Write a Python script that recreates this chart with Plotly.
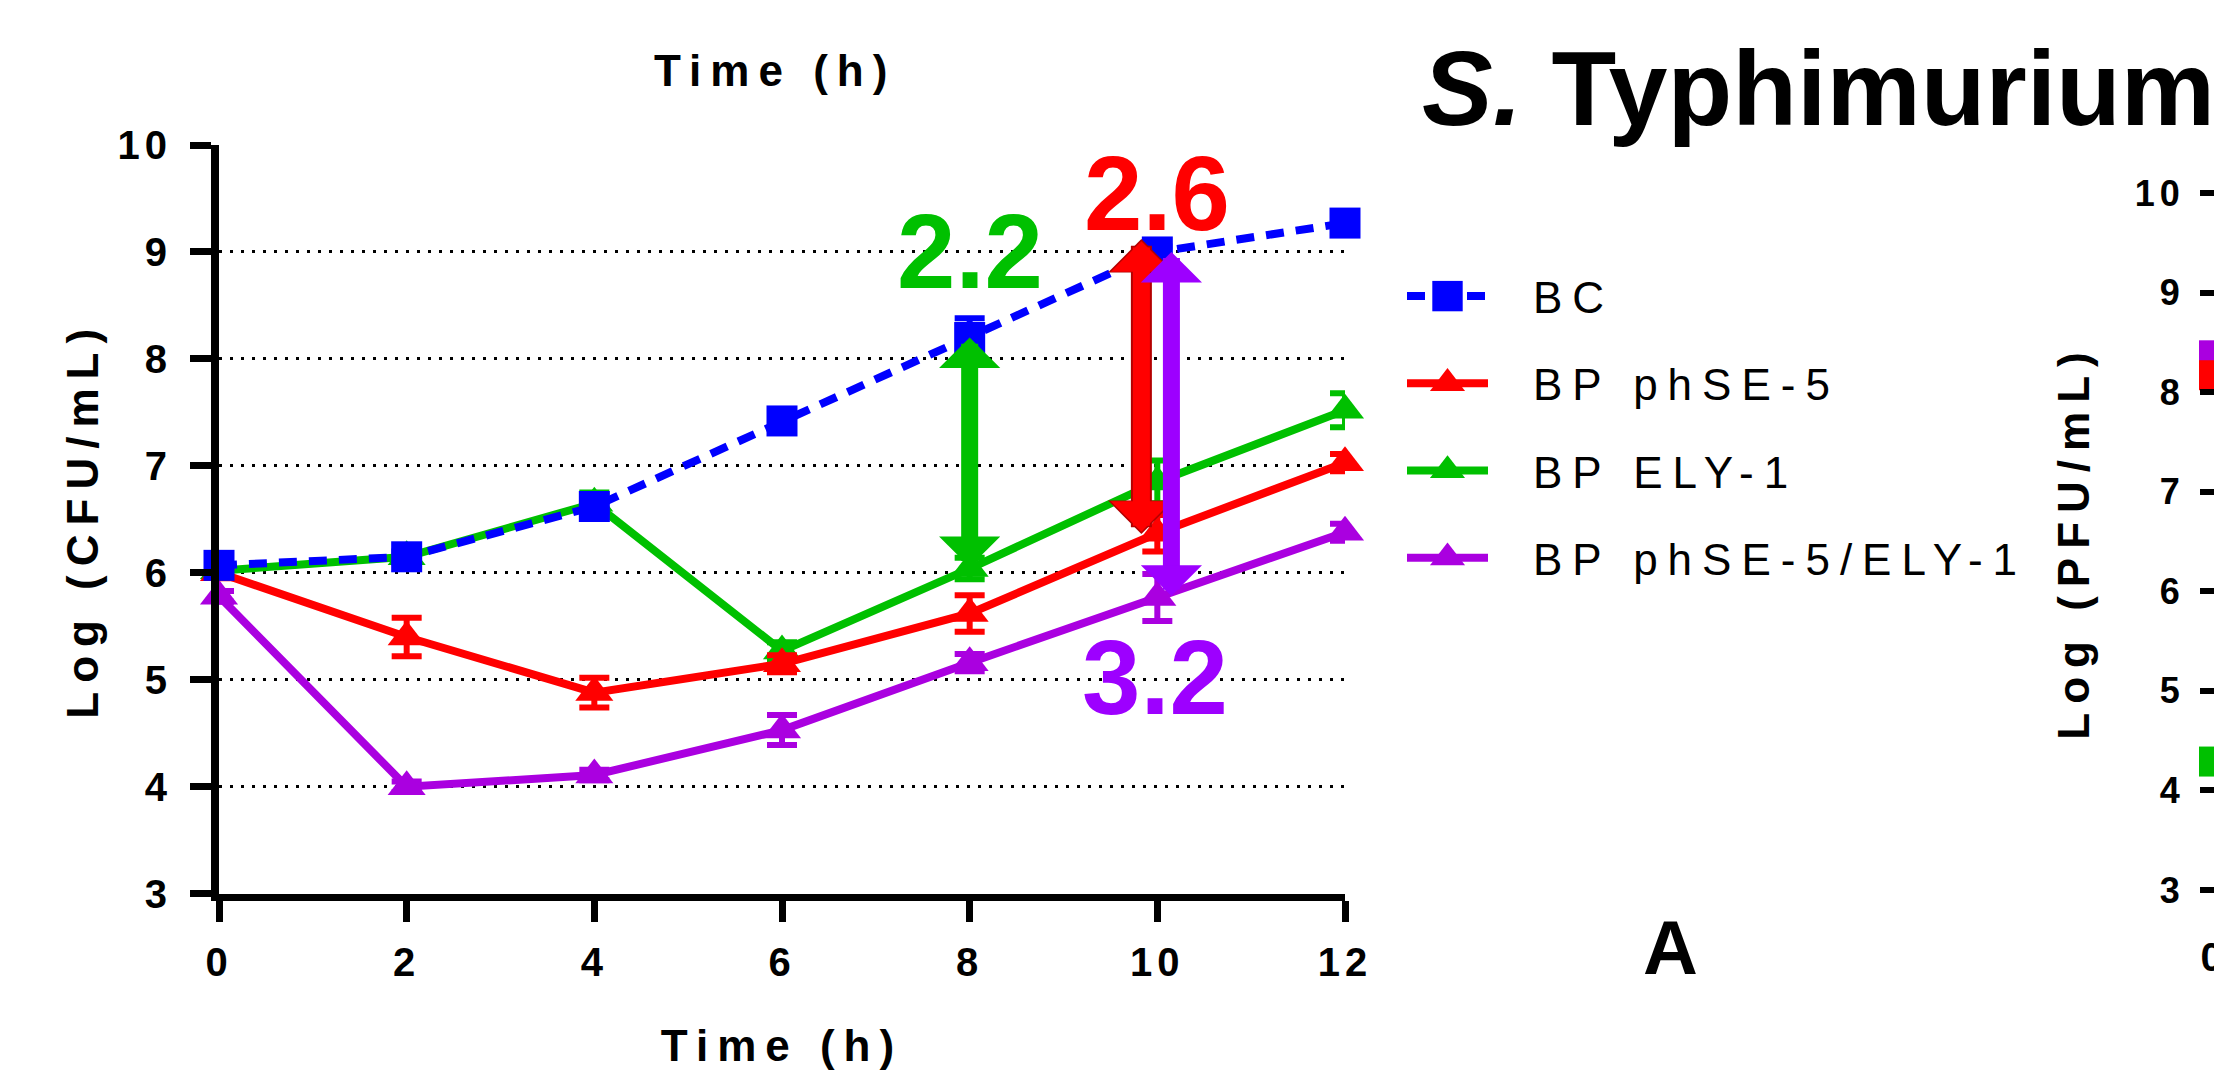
import plotly.graph_objects as go

# ---------------- data ----------------
time_h = [0, 2, 4, 6, 8, 10, 12]
x_ticks = [0, 2, 4, 6, 8, 10, 12]
y_ticks = [3, 4, 5, 6, 7, 8, 9, 10]

bc = [6.07, 6.15, 6.62, 7.42, 8.20, 9.00, 9.27]
bc_err = [0.05, 0.05, 0.05, 0.08, 0.18, 0.05, 0.05]
phse5 = [6.00, 5.40, 4.88, 5.15, 5.62, 6.37, 7.03]
phse5_err = [0.05, 0.18, 0.14, 0.08, 0.17, 0.17, 0.08]
ely1 = [6.02, 6.15, 6.65, 5.27, 6.04, 6.85, 7.52]
ely1_err = [0.05, 0.05, 0.10, 0.08, 0.10, 0.20, 0.16]
combo = [5.78, 4.00, 4.11, 4.53, 5.16, 5.77, 6.38]
combo_err = [0.05, 0.05, 0.05, 0.14, 0.08, 0.22, 0.08]

# partially visible second panel (PFU) at time 0
panel_b_time = [0]
panel_b_combo = [8.37]
panel_b_phse5 = [8.17]
panel_b_ely1 = [4.29]

diff_labels = ["2.2", "2.6", "3.2"]

# ---------------- style ----------------
W, H = 2214, 1070
FONT = "Liberation Sans, Arial, sans-serif"
BLUE = "#0000FF"
RED = "#FF0000"
DARKRED = "#B40000"
GREEN = "#00C000"
PURPLE = "#AA00E0"
PURPLE_ARROW = "#9D00FF"

fig = go.Figure()

series = [
    ("BP phSE-5/ELY-1", combo, combo_err, PURPLE, "triangle-up", "solid", 4),
    ("BP ELY-1", ely1, ely1_err, GREEN, "triangle-up", "solid", 3),
    ("BP phSE-5", phse5, phse5_err, RED, "triangle-up", "solid", 2),
    ("BC", bc, bc_err, BLUE, "square", "18px,12px", 1),
]
for name, yv, err, color, sym, dash, rank in series:
    fig.add_trace(go.Scatter(
        x=time_h, y=yv, name=name, mode="lines+markers",
        line=dict(color=color, width=8, dash=dash),
        marker=dict(symbol=sym, size=31 if sym == "square" else 33,
                    color=color, line=dict(width=0)),
        error_y=dict(type="data", array=err, visible=True, color=color,
                     thickness=6, width=15),
        legendrank=rank, legendgroup=name, cliponaxis=False,
    ))

for yv, color in [(panel_b_combo, PURPLE), (panel_b_phse5, RED), (panel_b_ely1, GREEN)]:
    fig.add_trace(go.Scatter(
        x=panel_b_time, y=yv, xaxis="x2", yaxis="y2", mode="markers",
        marker=dict(symbol="square", size=30, color=color, line=dict(width=0)),
        showlegend=False, cliponaxis=False,
    ))

# ---------------- arrows showing the reductions ----------------
i8 = time_h.index(8)
i10 = time_h.index(10)
arrows = [
    (8.0, bc[i8], ely1[i8], GREEN, None),
    (9.83, bc[i10] + 0.1, phse5[i10], RED, DARKRED),
    (10.15, bc[i10], combo[i10], PURPLE_ARROW, None),
]
for xa, ytop, ybot, color, edge in arrows:
    if edge:
        fig.add_annotation(x=xa, y=ytop + 0.02, ax=xa, ay=ybot - 0.02, xref="x", yref="y",
                           axref="x", ayref="y", text="", showarrow=True,
                           arrowhead=1, startarrowhead=1, arrowside="end+start",
                           arrowwidth=21, arrowsize=0.53, startarrowsize=0.53,
                           arrowcolor=edge, standoff=0, startstandoff=0)
    fig.add_annotation(x=xa, y=ytop, ax=xa, ay=ybot, xref="x", yref="y",
                       axref="x", ayref="y", text="", showarrow=True,
                       arrowhead=1, startarrowhead=1, arrowside="end+start",
                       arrowwidth=17, arrowsize=0.6, startarrowsize=0.6,
                       arrowcolor=color, standoff=0, startstandoff=0)

label_pos = [(8.0, 9.0, GREEN), (10.0, 9.55, RED), (9.98, 5.02, PURPLE_ARROW)]
for (lx, ly, col), txt in zip(label_pos, diff_labels):
    fig.add_annotation(x=lx, y=ly, xref="x", yref="y", text=txt, showarrow=False,
                       xanchor="center", yanchor="middle",
                       font=dict(family=FONT, size=105, color=col, weight="bold"))

# ---------------- other texts ----------------
fig.add_annotation(x=1420 / W, y=1 - 88 / H, xref="paper", yref="paper",
                   text="<i>S.</i> Typhimurium", showarrow=False,
                   xanchor="left", yanchor="middle",
                   font=dict(family=FONT, size=106, color="black", weight="bold"))
fig.add_annotation(x=775 / W, y=1 - 70 / H, xref="paper", yref="paper",
                   text="Time (h)", showarrow=False, xanchor="center", yanchor="middle",
                   font=dict(family=FONT, size=44, color="black", weight="bold"))
fig.add_annotation(x=1670 / W, y=1 - 947 / H, xref="paper", yref="paper",
                   text="A", showarrow=False, xanchor="center", yanchor="middle",
                   font=dict(family=FONT, size=76, color="black", weight="bold"))

tickfont = dict(family=FONT, size=40, color="black", weight="bold")
titlefont = dict(family=FONT, size=44, color="black", weight="bold")

fig.update_layout(
    width=W, height=H, template="none",
    paper_bgcolor="white", plot_bgcolor="white",
    margin=dict(l=0, r=0, t=0, b=0, pad=0),
    font=dict(family=FONT, color="black"),
    showlegend=True,
    legend=dict(x=1402 / W, y=1 - 261 / H, xanchor="left", yanchor="top",
                font=dict(family=FONT, size=44, color="black"),
                itemwidth=81, tracegroupgap=27, bgcolor="rgba(0,0,0,0)",
                borderwidth=0, itemclick=False, itemdoubleclick=False),
    xaxis=dict(domain=[219 / W, 1345 / W], range=[0, 12], tickvals=x_ticks,
               showline=True, linewidth=7, linecolor="black",
               ticks="outside", ticklen=21, tickwidth=7, tickcolor="black",
               showgrid=False, zeroline=False, tickfont=tickfont,
               ticklabelstandoff=6,
               title=dict(text="Time (h)", font=titlefont, standoff=54),
               automargin=False, anchor="y"),
    yaxis=dict(domain=[(H - 893.7) / H, (H - 145) / H], range=[3, 10], tickvals=y_ticks,
               showline=True, linewidth=8, linecolor="black",
               ticks="outside", ticklen=21, tickwidth=7, tickcolor="black",
               showgrid=True, gridcolor="black", gridwidth=3, griddash="3px,8px",
               zeroline=False, tickfont=tickfont, ticklabelstandoff=10,
               title=dict(text="Log (CFU/mL)", font=titlefont, standoff=18),
               automargin=False, anchor="x"),
    xaxis2=dict(domain=[0.99, 1.0], range=[-1, 0], tickvals=panel_b_time,
                showline=False, ticks="", showgrid=False, zeroline=False,
                tickfont=tickfont, ticklabelstandoff=40, ticklabeloverflow="allow",
                automargin=False, anchor="y2"),
    yaxis2=dict(domain=[180 / H, 877 / H], range=[3, 10], tickvals=y_ticks,
                anchor="free", position=1.0, side="left",
                showline=False, ticks="outside", ticklen=14, tickwidth=6, tickcolor="black",
                showgrid=False, zeroline=False,
                tickfont=dict(family=FONT, size=36, color="black", weight="bold"),
                ticklabelstandoff=8, ticklabeloverflow="allow",
                title=dict(text="Log (PFU/mL)", font=titlefont, standoff=40),
                automargin=False),
)

post = """
document.body.style.margin = '0';
var gd = document.getElementById('{plot_id}');
function ls(sel, v){ gd.querySelectorAll(sel).forEach(function(e){ e.style.letterSpacing = v; }); }
ls('.legendtext', '10px');
ls('.xtitle, .ytitle, .y2title', '9px');
ls('.xtick text, .ytick text, .x2tick text, .y2tick text', '5px');
gd.querySelectorAll('.annotation-text').forEach(function(e){
  if (e.textContent.indexOf('Time') === 0) { e.style.letterSpacing = '9px'; }
});
gd.querySelectorAll('.legend .scrollbox').forEach(function(e){ e.removeAttribute('clip-path'); });
gd.querySelectorAll('.legend .legendtext').forEach(function(e){
  e.setAttribute('x', parseFloat(e.getAttribute('x') || 0) + 40);
});
gd.querySelectorAll('.legend .legendpoints path.scatterpts').forEach(function(e){
  var t = e.getAttribute('transform') || '';
  e.setAttribute('transform', t + ' scale(1.9)');
});
"""

fig.write_html("out.html", post_script=post, config={"displayModeBar": False})
